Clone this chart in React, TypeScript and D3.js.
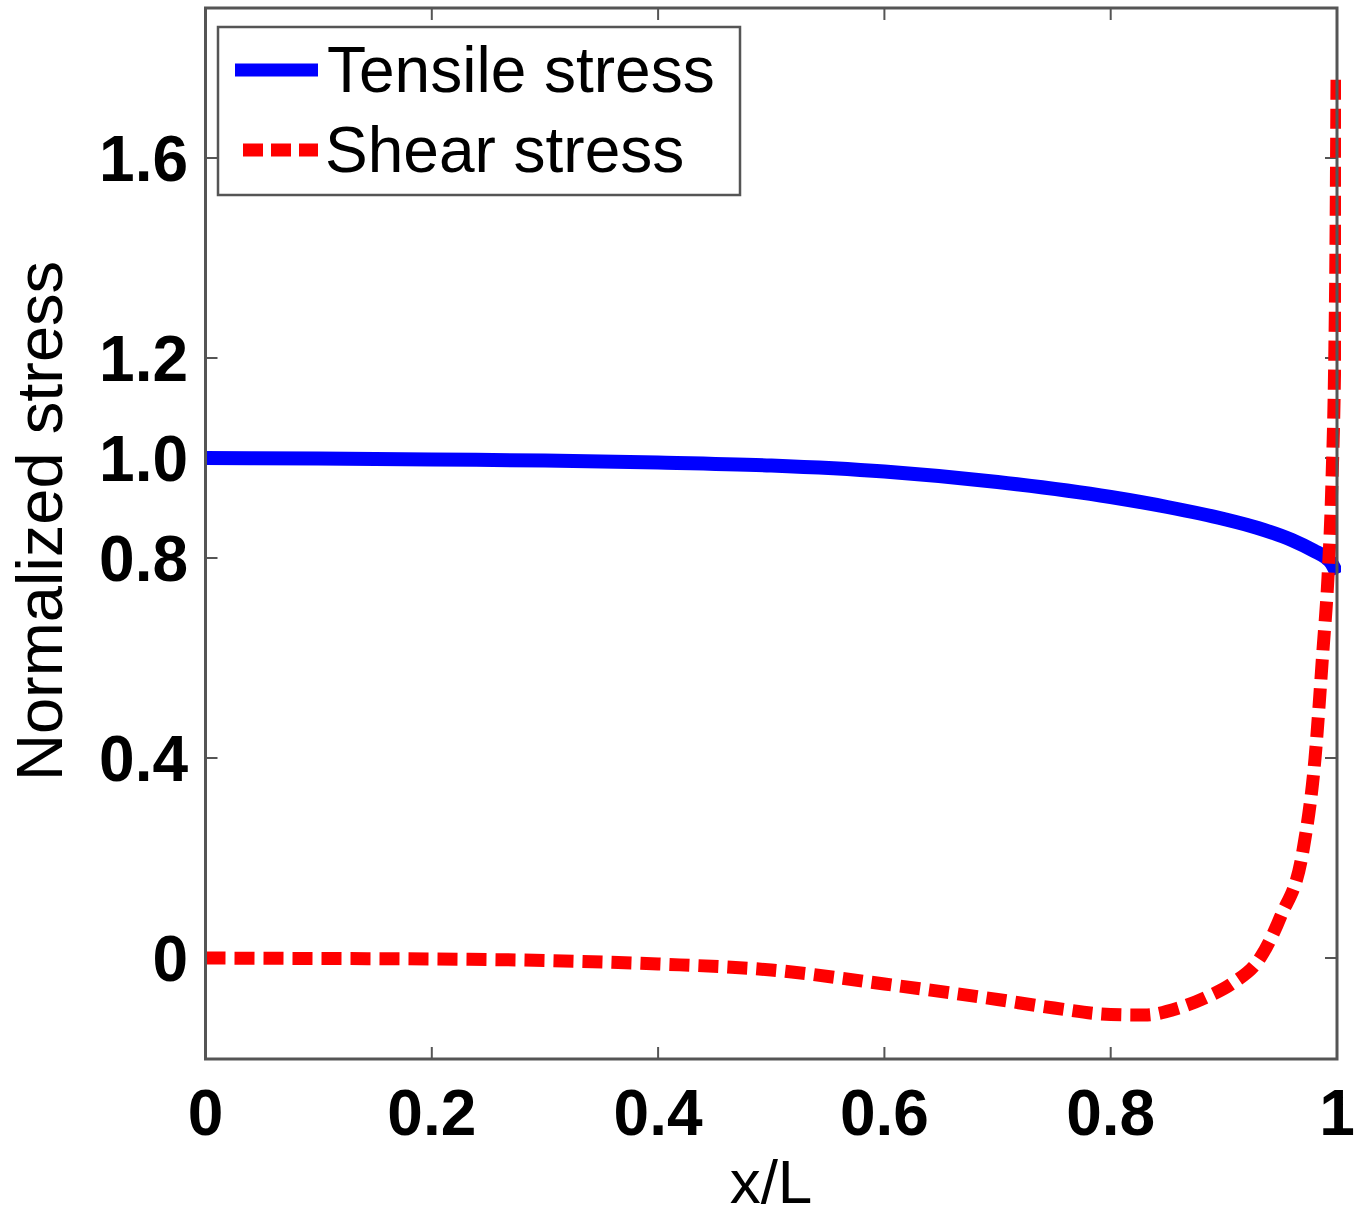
import React from "react";
import * as d3 from "d3";

const tensileX = [0, 0.1, 0.2, 0.3, 0.4, 0.5, 0.6, 0.7, 0.8, 0.85, 0.9, 0.93, 0.96, 0.98, 0.99, 0.995, 1.0];
const tensileY = [1.0, 0.999, 0.997, 0.995, 0.991, 0.985, 0.973, 0.952, 0.922, 0.902, 0.878, 0.86, 0.836, 0.814, 0.801, 0.79, 0.768];

const shearX = [0, 0.1, 0.2, 0.3, 0.4, 0.5, 0.6, 0.7, 0.75, 0.8, 0.83, 0.86, 0.885, 0.908, 0.932, 0.95, 0.97, 0.9806, 0.9876, 0.992, 0.9955, 0.998, 0.999, 1.0];
const shearY = [0, -0.001, -0.002, -0.005, -0.012, -0.024, -0.052, -0.083, -0.1, -0.113, -0.114, -0.1, -0.078, -0.05, 0, 0.082, 0.216, 0.4, 0.616, 0.76, 0.95, 1.2, 1.4, 1.76];

const xTicks = [0, 0.2, 0.4, 0.6, 0.8, 1];
const xTickLabels = ["0", "0.2", "0.4", "0.6", "0.8", "1"];
const yTicks = [0, 0.4, 0.8, 1.0, 1.2, 1.6];
const yTickLabels = ["0", "0.4", "0.8", "1.0", "1.2", "1.6"];
const seriesNames = ["Tensile stress", "Shear stress"];

const W = 1363;
const H = 1218;
const left = 205.5;
const right = 1337;
const top = 8;
const bottom = 1059;

export default function App() {
  const x = d3.scaleLinear().domain([0, 1]).range([left, right]);
  const y = d3.scaleLinear().domain([-0.202, 1.9]).range([bottom, top]);
  const line = d3
    .line<[number, number]>()
    .x((d) => x(d[0]))
    .y((d) => y(d[1]))
    .curve(d3.curveMonotoneX);
  const tData = tensileX.map((v, i) => [v, tensileY[i]] as [number, number]);
  const sData = shearX.map((v, i) => [v, shearY[i]] as [number, number]);
  const font = "'Liberation Sans', Arial, Helvetica, sans-serif";
  const axisColor = "#555";
  const tickLen = 12;

  return (
    <svg
      width={W}
      height={H}
      style={{ position: "absolute", left: 0, top: 0, background: "#fff" }}
      fontFamily={font}
    >
      <rect x={0} y={0} width={W} height={H} fill="#fff" />
      <defs>
        <clipPath id="plotclip">
          <rect x={left} y={top} width={right - left + 4} height={bottom - top} />
        </clipPath>
      </defs>
      {xTicks.map((t, i) => (
        <g key={"xt" + i}>
          <line x1={x(t)} x2={x(t)} y1={bottom} y2={bottom - tickLen} stroke={axisColor} strokeWidth={2} />
          <line x1={x(t)} x2={x(t)} y1={top} y2={top + tickLen} stroke={axisColor} strokeWidth={2} />
          <text x={x(t)} y={1135} textAnchor="middle" fontSize={64} fontWeight="bold" fill="#000">
            {xTickLabels[i]}
          </text>
        </g>
      ))}
      {yTicks.map((t, i) => (
        <g key={"yt" + i}>
          <line x1={left} x2={left + tickLen} y1={y(t)} y2={y(t)} stroke={axisColor} strokeWidth={2} />
          <line x1={right} x2={right - tickLen} y1={y(t)} y2={y(t)} stroke={axisColor} strokeWidth={2} />
          <text x={188} y={y(t) + 23} textAnchor="end" fontSize={64} fontWeight="bold" fill="#000">
            {yTickLabels[i]}
          </text>
        </g>
      ))}
      <g clipPath="url(#plotclip)">
        <path d={line(tData) || ""} fill="none" stroke="#0000ff" strokeWidth={14} />
        <path d={line(sData) || ""} fill="none" stroke="#ff0000" strokeWidth={13} strokeDasharray="20 9" />
      </g>
      <rect
        x={left}
        y={top}
        width={right - left}
        height={bottom - top}
        fill="none"
        stroke={axisColor}
        strokeWidth={3}
      />
      <rect x={218} y={27} width={522} height={168} fill="#fff" stroke={axisColor} strokeWidth={2.5} />
      <line x1={235} x2={318} y1={70} y2={70} stroke="#0000ff" strokeWidth={13} />
      <line x1={243} x2={318} y1={150} y2={150} stroke="#ff0000" strokeWidth={13} strokeDasharray="20 8" />
      <text x={327} y={92} fontSize={64} fill="#000">
        {seriesNames[0]}
      </text>
      <text x={325} y={172} fontSize={64} fill="#000">
        {seriesNames[1]}
      </text>
      <text x={771} y={1203} textAnchor="middle" fontSize={62} fill="#000">
        x/L
      </text>
      <text transform={`translate(62, 521) rotate(-90)`} textAnchor="middle" fontSize={65} fill="#000">
        Normalized stress
      </text>
    </svg>
  );
}
